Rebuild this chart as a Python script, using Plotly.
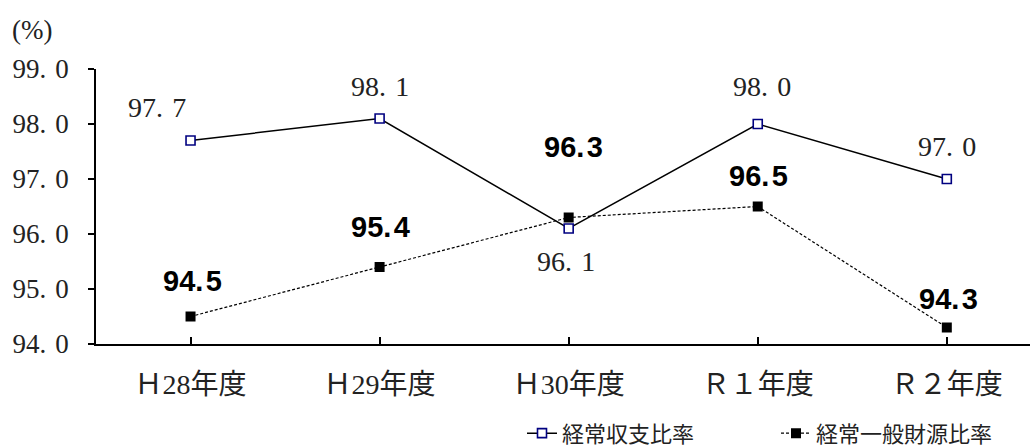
import plotly.graph_objects as go

# Fiscal years and ratio values (%)
years = ["Ｈ28年度", "Ｈ29年度", "Ｈ30年度", "Ｒ１年度", "Ｒ２年度"]
keijo_shushi = [97.7, 98.1, 96.1, 98.0, 97.0]      # 経常収支比率
keijo_ippan = [94.5, 95.4, 96.3, 96.5, 94.3]       # 経常一般財源比率
y_ticks = [94.0, 95.0, 96.0, 97.0, 98.0, 99.0]

SERIF = "Liberation Serif, Noto Sans CJK JP, serif"
BOLD_SANS = "Liberation Sans, Arial, sans-serif"
GOTHIC = "Noto Sans CJK JP, sans-serif"


def fmt_serif(v):
    return f"{v:.1f}".replace(".", ".\u2004")


def fmt_bold(v):
    return f"{v:.1f}".replace(".", ".\u200a")


x_idx = list(range(len(years)))

fig = go.Figure()

fig.add_trace(go.Scatter(
    x=x_idx, y=keijo_ippan, name="経常一般財源比率",
    mode="lines+markers",
    line=dict(color="black", width=1.2, dash="3px,2px"),
    marker=dict(symbol="square", size=10, color="black",
                line=dict(color="black", width=0)),
))

fig.add_trace(go.Scatter(
    x=x_idx, y=keijo_shushi, name="経常収支比率",
    mode="lines+markers",
    line=dict(color="black", width=1.5),
    marker=dict(symbol="square", size=9, color="white",
                line=dict(color="#000080", width=1.6)),
))

# value labels: pixel offsets (dx, dy) from each point
shushi_offsets = [(-34, 33), (0, 32), (-3, -33), (4, 38), (0, 33)]
ippan_offsets = [(2, 36), (1, 40), (5, 71), (1, 31), (2, 29)]

annotations = []
for i, (v, (dx, dy)) in enumerate(zip(keijo_shushi, shushi_offsets)):
    annotations.append(dict(
        x=x_idx[i], y=v, xref="x", yref="y", text=fmt_serif(v),
        showarrow=False, xshift=dx, yshift=dy,
        font=dict(family=SERIF, size=28, color="#222222"),
    ))
for i, (v, (dx, dy)) in enumerate(zip(keijo_ippan, ippan_offsets)):
    annotations.append(dict(
        x=x_idx[i], y=v, xref="x", yref="y", text=fmt_bold(v),
        showarrow=False, xshift=dx, yshift=dy,
        font=dict(family=BOLD_SANS, size=29, color="black", weight="bold"),
    ))

annotations.append(dict(
    x=0, y=1, xref="paper", yref="paper", text="(%)",
    showarrow=False, xanchor="left", yanchor="middle",
    xshift=-86, yshift=39,
    font=dict(family=SERIF, size=27, color="#222222"),
))

fig.update_layout(
    width=1030, height=448,
    margin=dict(l=96, r=0, t=69, b=104, autoexpand=False),
    paper_bgcolor="white", plot_bgcolor="white",
    showlegend=True,
    legend=dict(
        orientation="h", x=(522 - 96) / 934, xanchor="left",
        y=-0.325, yanchor="middle",
        traceorder="reversed",
        entrywidth=209, entrywidthmode="pixels",
        font=dict(family=GOTHIC, size=22, color="#222222"),
        bgcolor="rgba(0,0,0,0)",
    ),
    annotations=annotations,
)

fig.update_xaxes(
    range=[-0.5, 4.44],
    tickmode="array", tickvals=x_idx, ticktext=years,
    tickson="boundaries", ticks="inside", ticklen=7, tickwidth=1.5,
    tickcolor="black",
    showline=True, linecolor="black", linewidth=1.5,
    showgrid=False, zeroline=False,
    ticklabelstandoff=15,
    tickfont=dict(family=SERIF, size=28, color="#222222"),
)

fig.update_yaxes(
    range=[94, 99],
    tickmode="array", tickvals=y_ticks,
    ticktext=[fmt_serif(v) for v in y_ticks],
    ticks="outside", ticklen=6, tickwidth=1.5, tickcolor="black",
    showline=True, linecolor="black", linewidth=1.5,
    showgrid=False, zeroline=False,
    ticklabelstandoff=14,
    tickfont=dict(family=SERIF, size=27, color="#222222"),
)

fig.write_html("out.html")
